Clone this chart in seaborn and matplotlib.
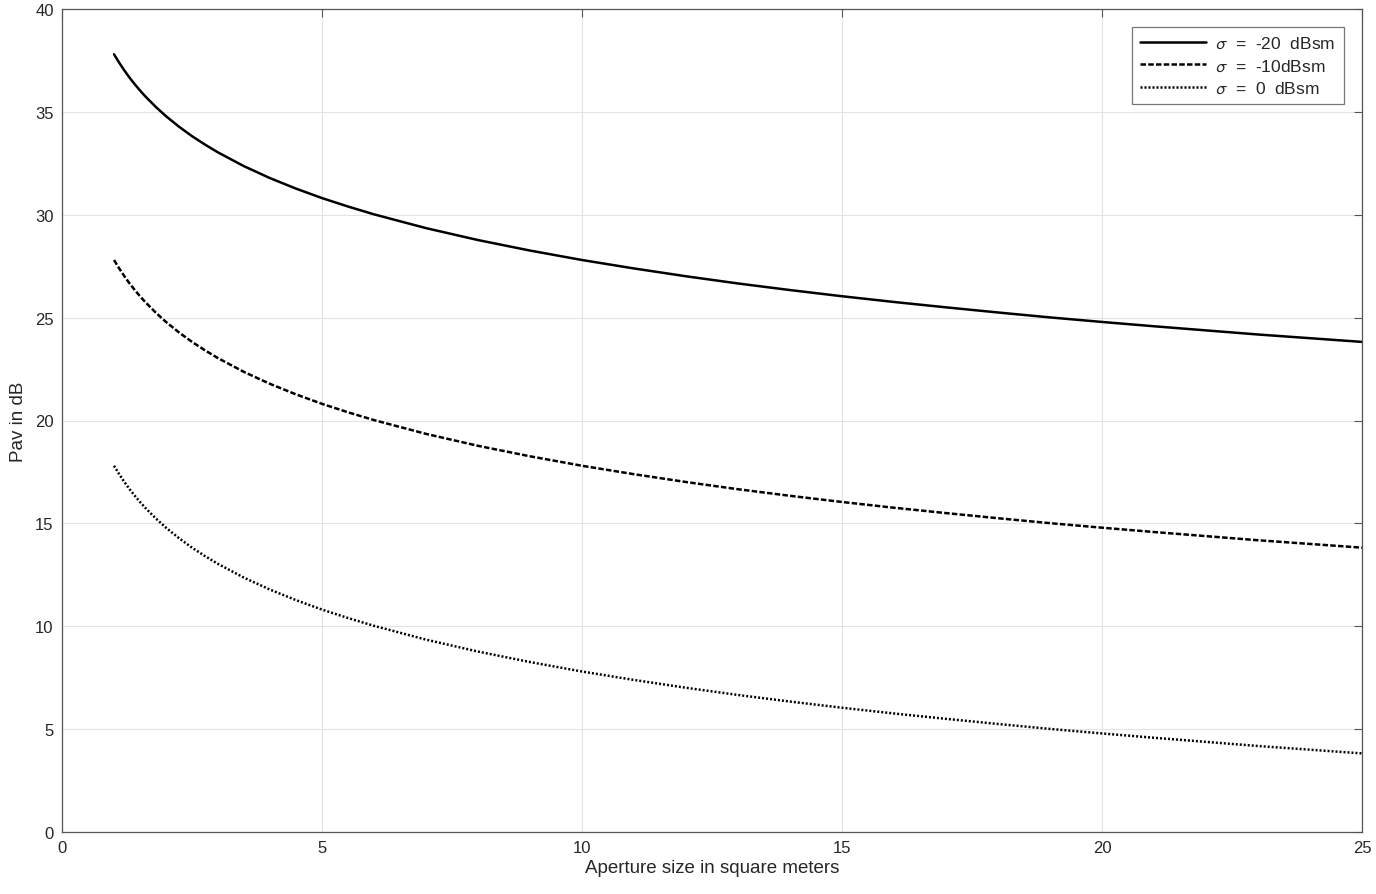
import matplotlib
matplotlib.use("Agg")
import matplotlib.pyplot as plt
import seaborn as sns
import pandas as pd

aperture = [1, 1.1, 1.2, 1.3, 1.4, 1.5, 1.6, 1.8, 2, 2.25, 2.5, 2.75, 3, 3.5,
            4, 4.5, 5, 5.5, 6, 7, 8, 9, 10, 11, 12, 13, 14, 15, 16, 17, 18,
            19, 20, 21, 22, 23, 24, 25]
# Pav in dB for each sigma
pav_m20 = [37.80, 37.39, 37.01, 36.66, 36.34, 36.04, 35.76, 35.25, 34.79,
           34.28, 33.82, 33.41, 33.03, 32.36, 31.78, 31.27, 30.81, 30.40,
           30.02, 29.35, 28.77, 28.26, 27.80, 27.39, 27.01, 26.66, 26.34,
           26.04, 25.76, 25.50, 25.25, 25.01, 24.79, 24.58, 24.38, 24.18,
           24.00, 23.82]
pav_m10 = [27.80, 27.39, 27.01, 26.66, 26.34, 26.04, 25.76, 25.25, 24.79,
           24.28, 23.82, 23.41, 23.03, 22.36, 21.78, 21.27, 20.81, 20.40,
           20.02, 19.35, 18.77, 18.26, 17.80, 17.39, 17.01, 16.66, 16.34,
           16.04, 15.76, 15.50, 15.25, 15.01, 14.79, 14.58, 14.38, 14.18,
           14.00, 13.82]
pav_0 = [17.80, 17.39, 17.01, 16.66, 16.34, 16.04, 15.76, 15.25, 14.79,
         14.28, 13.82, 13.41, 13.03, 12.36, 11.78, 11.27, 10.81, 10.40,
         10.02, 9.35, 8.77, 8.26, 7.80, 7.39, 7.01, 6.66, 6.34,
         6.04, 5.76, 5.50, 5.25, 5.01, 4.79, 4.58, 4.38, 4.18,
         4.00, 3.82]
labels = ["$\\sigma$  =  -20  dBsm", "$\\sigma$  =  -10dBsm", "$\\sigma$  =  0  dBsm"]
styles = ["-", (0, (2.2, 0.9)), (0, (0.8, 0.8))]

sns.set_style("white")
plt.rcParams['font.family'] = ['Liberation Sans', 'DejaVu Sans']
plt.rcParams['mathtext.fontset'] = 'stixsans'

df = pd.DataFrame({"A": aperture * 3,
                   "Pav": pav_m20 + pav_m10 + pav_0,
                   "sigma": [labels[0]] * len(aperture) + [labels[1]] * len(aperture)
                   + [labels[2]] * len(aperture)})

fig = plt.figure(figsize=(13.76, 8.95), dpi=100)
ax = fig.add_axes([62 / 1376, 1 - 833 / 895, 1300 / 1376, 823 / 895])

for lab, ls in zip(labels, styles):
    sub = df[df["sigma"] == lab]
    sns.lineplot(data=sub, x="A", y="Pav", ax=ax, color="black", lw=1.8,
                 linestyle=ls, label=lab, estimator=None, sort=True)

ax.set_xlim(0, 25)
ax.set_ylim(0, 40)
ax.set_xticks(range(0, 26, 5))
ax.set_yticks(range(0, 41, 5))
ax.grid(True, color="#e3e3e3", lw=0.8)
for s in ax.spines.values():
    s.set_color("#555555")
    s.set_linewidth(0.9)
ax.tick_params(direction="in", top=True, right=True, length=6, width=0.8,
               color="#555555", labelsize=12, pad=6)
ax.set_xlabel("Aperture size in square meters", fontsize=13.5, labelpad=3)
ax.set_ylabel("Pav in dB", fontsize=13.5, labelpad=6)

leg = ax.legend(loc="upper right", fontsize=12.5, frameon=True, fancybox=False,
                edgecolor="#555555", handlelength=3.8, borderaxespad=1.05,
                labelspacing=0.4, handletextpad=0.5, borderpad=0.5)
leg.get_frame().set_linewidth(0.9)

fig.savefig("out.png", dpi=100)
